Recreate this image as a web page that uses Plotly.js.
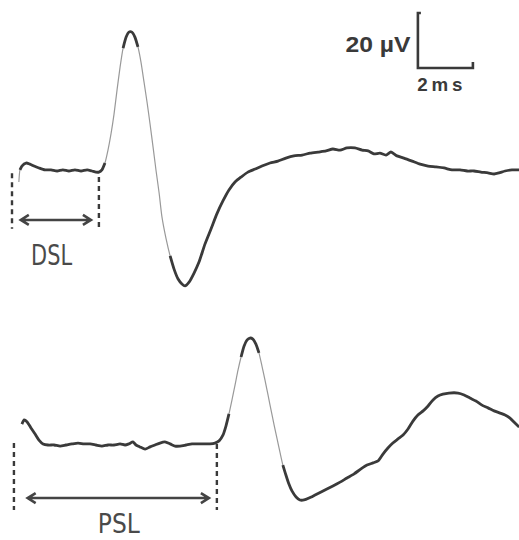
<!DOCTYPE html>
<html>
<head>
<meta charset="utf-8">
<script src="https://cdn.plot.ly/plotly-3.0.1.min.js"></script>
<style>html,body{margin:0;padding:0;background:#fff;}#chart{width:519px;height:540px;}</style>
</head>
<body>
<div id="chart"></div>
<script>
// ---- Data (time in ms from stimulus, amplitude in µV) ----
// Top trace: distal stimulation (DSL)
const tTop = [0.25,0.29,0.36,0.51,0.65,0.80,0.98,1.20,1.42,1.64,1.85,2.07,2.29,2.51,2.73,2.91,3.05,3.16,3.27,3.38,3.49,3.60,3.71,3.82,3.93,4.04,4.15,4.25,4.36,4.47,4.58,4.69,4.80,4.91,5.02,5.13,5.24,5.35,5.45,5.60,5.75,5.89,6.04,6.18,6.29,6.44,6.62,6.80,7.02,7.24,7.45,7.67,7.89,8.11,8.33,8.58,8.84,9.09,9.38,9.67,9.96,10.25,10.55,10.84,11.13,11.42,11.67,11.93,12.18,12.47,12.73,12.95,13.16,13.38,13.60,13.78,14.00,14.25,14.55,14.84,15.13,15.42,15.71,16.00,16.29,16.55,16.80,17.05,17.31,17.53,17.71,17.93,18.18,18.44];
const vTop = [-4.0,0.4,1.8,2.9,2.5,1.8,1.1,0.4,0.4,0,0.4,0,0.4,0,0.4,0,-0.4,-0.4,0.4,2.9,7.6,13.5,20.7,29.5,37.8,44.7,48.7,50.5,50.5,48.7,45.1,39.6,32.4,25.1,17.1,8.7,0.0,-8.0,-16.5,-24.5,-30.9,-35.6,-39.3,-41.1,-41.8,-40.4,-37.1,-33.1,-26.5,-21.0,-15.6,-10.9,-6.9,-4.0,-2.2,-0.4,0.7,1.8,2.9,3.6,4.7,5.5,5.8,6.5,6.9,7.3,8.0,7.6,8.4,8.4,7.6,7.3,6.2,6.5,5.8,6.9,5.5,4.7,3.6,2.5,1.8,1.5,1.1,0.4,0.4,0,0,-0.4,-0.7,-1.1,-0.7,0,0.4,0.4];
// Bottom trace: proximal stimulation (PSL)
const tBot = [0.36,0.44,0.55,0.69,0.84,0.98,1.13,1.31,1.53,1.75,1.96,2.18,2.40,2.62,2.84,3.05,3.27,3.49,3.71,3.93,4.11,4.25,4.40,4.51,4.65,4.84,5.02,5.20,5.38,5.56,5.75,5.93,6.11,6.33,6.55,6.76,6.98,7.20,7.38,7.53,7.67,7.78,7.89,8.00,8.11,8.22,8.33,8.44,8.55,8.65,8.76,8.87,8.98,9.09,9.20,9.31,9.42,9.53,9.64,9.75,9.85,9.96,10.07,10.18,10.33,10.47,10.62,10.80,11.02,11.24,11.45,11.67,11.93,12.18,12.44,12.69,12.91,13.13,13.31,13.49,13.67,13.85,14.04,14.22,14.40,14.58,14.76,14.95,15.13,15.31,15.49,15.67,15.89,16.22,16.44,16.65,16.87,17.09,17.31,17.53,17.75,17.93,18.11,18.29,18.44];
const vBot = [7.6,9.1,8.4,6.2,4.0,1.8,0.4,0,0,-0.4,0,0.4,0.7,0.4,0.4,0,-0.4,0,0,0.4,0,0.4,1.1,0,-0.7,-1.5,-0.7,0,0.7,1.1,0.4,-0.4,-0.4,0,0.4,0.4,0.4,0.4,0.7,1.5,3.6,6.9,11.3,16.4,21.8,27.3,32.0,36.0,38.2,38.9,38.5,36.7,33.5,28.7,23.6,18.2,12.7,7.3,2.2,-2.9,-7.3,-10.9,-14.2,-16.7,-18.9,-20.0,-20.0,-19.3,-18.2,-17.1,-16.0,-14.9,-13.5,-12.0,-10.5,-8.7,-7.3,-6.5,-5.8,-3.3,-1.1,0.7,2.2,3.6,5.8,8.7,10.9,12.4,14.2,16.4,17.8,18.5,18.9,18.9,18.2,17.1,16.0,14.5,13.5,12.4,11.6,10.9,9.8,8.0,6.5];

// Latency markers (ms)
const dslStart = 0.0, dslEnd = 3.16;
const pslStart = 0.07, pslEnd = 7.45;
const labels = ["DSL", "PSL"];
// Calibration
const scaleV = 20;   // µV
const scaleT = 2;    // ms
const scaleLabels = ["20 \u00b5V", "2\u2009m\u2009s"];

// ---- Rendering ----
const DARK = '#3a3a3a', FADE = '#999999';
const MS_PX = 27.5, UV_PX = 2.75;

function slowPart(t, v) {
  const xs = [], ys = [];
  let last = -1;
  for (let i = 0; i < t.length - 1; i++) {
    const slope = Math.abs((v[i+1]-v[i]) * UV_PX / ((t[i+1]-t[i]) * MS_PX));
    if (slope < 4.2) {
      if (last !== i) { xs.push(t[i]); ys.push(v[i]); }
      xs.push(t[i+1]); ys.push(v[i+1]); last = i+1;
    } else if (xs.length && ys[ys.length-1] !== null) {
      xs.push(null); ys.push(null);
    }
  }
  return {xs, ys};
}

const sTop = slowPart(tTop, vTop), sBot = slowPart(tBot, vBot);
const traces = [
  {x: tTop, y: vTop, xaxis:'x', yaxis:'y', mode:'lines', line:{color:FADE, width:1.2, shape:'spline', smoothing:0.6}, hoverinfo:'skip'},
  {x: sTop.xs, y: sTop.ys, xaxis:'x', yaxis:'y', mode:'lines', connectgaps:false, line:{color:DARK, width:2.8, shape:'spline', smoothing:0.6}, hoverinfo:'skip'},
  {x: tBot, y: vBot, xaxis:'x', yaxis:'y2', mode:'lines', line:{color:FADE, width:1.2, shape:'spline', smoothing:0.6}, hoverinfo:'skip'},
  {x: sBot.xs, y: sBot.ys, xaxis:'x', yaxis:'y2', mode:'lines', connectgaps:false, line:{color:DARK, width:2.8, shape:'spline', smoothing:0.6}, hoverinfo:'skip'}
];

function dashed(x, y0, y1, yref) {
  return {type:'line', xref:'x', yref:yref, x0:x, x1:x, y0:y0, y1:y1,
          line:{color:DARK, width:2.4, dash:'5px,4px'}};
}
function dblArrow(x0, x1, y, yref) {
  const hx = 8 / MS_PX, hy = 5 / UV_PX;
  const p = `M ${x0+hx},${y+hy} L ${x0},${y} L ${x0+hx},${y-hy} M ${x0},${y} L ${x1},${y} ` +
            `M ${x1-hx},${y+hy} L ${x1},${y} L ${x1-hx},${y-hy}`;
  return {type:'path', xref:'x', yref:yref, path:p, line:{color:'#444', width:2.6}};
}
const sx = 14.76, sy = 37.45;
const scalePath = `M ${sx+3/MS_PX},${sy+scaleV} L ${sx},${sy+scaleV} L ${sx},${sy} L ${sx+scaleT},${sy} L ${sx+scaleT},${sy+6/UV_PX}`;

const shapes = [
  dashed(dslStart, -0.8, -21, 'y'),
  dashed(dslEnd, -2.2, -21.5, 'y'),
  dblArrow(dslStart + 0.32, dslEnd - 0.29, -17.8, 'y'),
  dashed(pslStart, 0.7, -23.6, 'y2'),
  dashed(pslEnd, 0.4, -23.6, 'y2'),
  dblArrow(pslStart + 0.5, pslEnd - 0.29, -19.3, 'y2'),
  {type:'path', xref:'x', yref:'y', path:scalePath, line:{color:'#3a3a3a', width:2.6}}
];

const labFont = {family:'"DejaVu Sans Condensed", "Liberation Sans Narrow", "DejaVu Sans", sans-serif', size:29, color:'#4a4a4a'};
const scaleFont = {family:'"Liberation Sans", Arial, sans-serif', size:22, color:'#3a3a3a', weight:700};
const annotations = [
  {x: 1.47, y: -30.5, xref:'x', yref:'y', text: labels[0], showarrow:false, font: labFont, xanchor:'center', yanchor:'middle', fitWidth:41},
  {x: 3.89, y: -28.7, xref:'x', yref:'y2', text: labels[1], showarrow:false, font: Object.assign({}, labFont, {size:27}), xanchor:'center', yanchor:'middle', fitWidth:42},
  {x: 13.31, y: sy + 8.7, xref:'x', yref:'y', text: scaleLabels[0], showarrow:false, font: scaleFont, xanchor:'center', yanchor:'middle', fitWidth:65},
  {x: sx + scaleT / 2 - 0.2, y: sy - 6.1, xref:'x', yref:'y', text: scaleLabels[1], showarrow:false, font: Object.assign({}, scaleFont, {size:19}), xanchor:'center', yanchor:'middle', fitWidth:45}
];
const fitWidths = annotations.map(a => a.fitWidth);
annotations.forEach(a => delete a.fitWidth);

const layout = {
  width: 519, height: 540,
  margin: {l:0, r:0, t:0, b:0, pad:0},
  paper_bgcolor: '#ffffff', plot_bgcolor: '#ffffff',
  showlegend: false,
  xaxis: {range: [-12/MS_PX, 507/MS_PX], visible:false, fixedrange:true},
  yaxis: {domain: [1 - 300/540, 1], range: [-46.91, 62.18], visible:false, fixedrange:true},
  yaxis2: {domain: [0, 1 - 300/540], range: [-34.55, 52.73], visible:false, fixedrange:true, anchor:'x'},
  shapes: shapes,
  annotations: annotations
};

Plotly.newPlot('chart', traces, layout, {staticPlot:true, displayModeBar:false}).then(gd => {
  // Fit label widths to match the narrow lettering of the original figure
  gd.querySelectorAll('g.annotation').forEach(g => {
    const idx = +g.getAttribute('data-index');
    const txt = g.querySelector('text.annotation-text');
    if (txt && fitWidths[idx]) {
      txt.setAttribute('textLength', fitWidths[idx]);
      txt.setAttribute('lengthAdjust', 'spacingAndGlyphs');
    }
  });
});
</script>
</body>
</html>
